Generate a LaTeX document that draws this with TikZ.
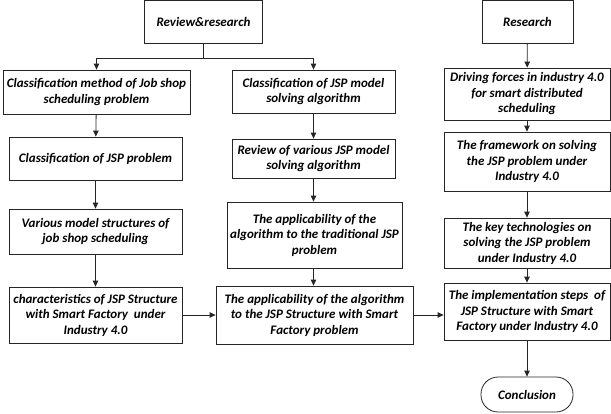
\documentclass[tikz,border=0pt]{standalone}
\usepackage{fontspec}
\setmainfont{Carlito}
\usetikzlibrary{arrows.meta}
\begin{document}
\begin{tikzpicture}[x=1pt,y=-1pt,
  box/.style={draw=black!85,line width=0.8pt,inner sep=0pt,align=center,
    font=\fontsize{13}{15.5}\selectfont\bfseries\itshape},
  arr/.style={draw=black!85,line width=0.8pt,-{Triangle[length=6pt,width=5.5pt]}},
  ln/.style={draw=black!85,line width=0.8pt}]
\useasboundingbox (0,0) rectangle (611,413);
% top
\node[box,minimum width=118,minimum height=43] (rev) at (203.5,22) {Review\&research};
\node[box,minimum width=91,minimum height=43] (res) at (527.5,22) {Research};
% left column
\node[box,minimum width=187,minimum height=44] (l1) at (96.5,92) {Classification method of Job shop\\scheduling problem};
\node[box,minimum width=173,minimum height=43] (l2) at (95.5,158.5) {Classification of JSP problem};
\node[box,minimum width=173,minimum height=45] (l3) at (95.5,231.5) {Various model structures of\\job shop scheduling};
\node[box,minimum width=173,minimum height=56] (l4) at (95.5,315) {characteristics of JSP Structure\\with Smart Factory\ \ under\\Industry 4.0};
% middle column
\node[box,minimum width=163,minimum height=43] (m1) at (313.5,91.5) {Classification of JSP model\\solving algorithm};
\node[box,minimum width=163,minimum height=39] (m2) at (313.5,158.5) {Review of various JSP model\\solving algorithm};
\node[box,minimum width=175,minimum height=66] (m3) at (314.5,235) {The applicability of the\\algorithm to the traditional JSP\\problem};
\node[box,minimum width=197,minimum height=58] (m5) at (314.5,315) {The applicability of the algorithm\\to the JSP Structure with Smart\\Factory problem};
% right column
\node[box,minimum width=166,minimum height=52] (r1) at (527,94) {Driving forces in industry 4.0\\for smart distributed\\scheduling};
\node[box,minimum width=166,minimum height=59] (r2) at (527,161.5) {The framework on solving\\the JSP problem under\\Industry 4.0};
\node[box,minimum width=166,minimum height=50] (r3) at (527,243) {The key technologies on\\solving the JSP problem\\under Industry 4.0};
\node[box,minimum width=166,minimum height=57] (r4) at (527,311.5) {The implementation steps\ \ of\\JSP Structure with Smart\\Factory under Industry 4.0};
\node[box,minimum width=92,minimum height=35,rounded corners=17pt] (conc) at (527,394.5) {Conclusion};
% connectors
\coordinate (split) at (rev.south|-0,58);
\draw[ln] (rev.south) -- (split);
\draw[arr] (split) -| (l1.north);
\draw[arr] (split) -| (m1.north);
\draw[arr] (l1) -- (l2);
\draw[arr] (l2) -- (l3);
\draw[arr] (l3) -- (l4);
\draw[arr] (m1) -- (m2);
\draw[arr] (m2.south) -- (m2.south|-m3.north);
\draw[arr] (m2.south|-m3.south) -- (m2.south|-m5.north);
\draw[arr] (l4.east) -- (l4.east-|m5.west);
\draw[arr] (m5.east) -- (m5.east-|r4.west);
\draw[arr] (res) -- (r1);
\draw[arr] (r1) -- (r2);
\draw[arr] (r2) -- (r3);
\draw[arr] (r3) -- (r4);
\draw[arr] (r4) -- (conc);
\end{tikzpicture}
\end{document}
